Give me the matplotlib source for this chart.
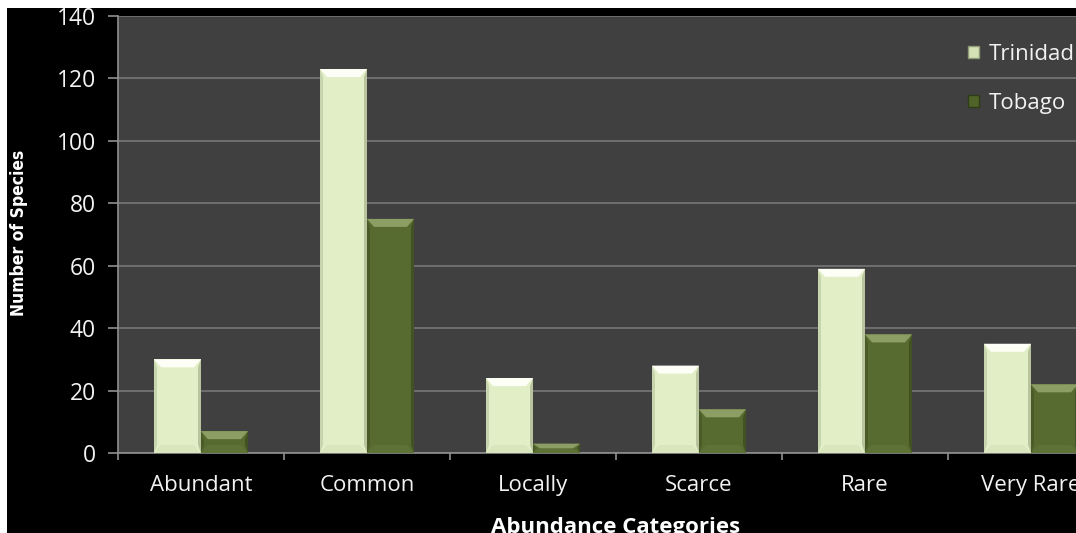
import numpy as np
import matplotlib.pyplot as plt
from matplotlib.patches import Rectangle, Polygon, Patch

categories = ["Abundant", "Common", "Locally", "Scarce", "Rare", "Very Rare"]
trinidad = [30, 123, 24, 28, 59, 35]
tobago = [7, 75, 3, 14, 38, 22]
yticks = [0, 20, 40, 60, 80, 100, 120, 140]

W, H = 1076, 533
fig = plt.figure(figsize=(W / 100, H / 100), dpi=100, facecolor="white")
# black panel behind everything, thin white margin on top and left
fig.patches.append(Rectangle((7 / W, 0), 1, 1 - 8 / H, transform=fig.transFigure,
                             facecolor="black", edgecolor="none", zorder=-10))

left, right, top, bottom = 118, 1114, 16, 453
ax = fig.add_axes([left / W, (H - bottom) / H, (right - left) / W, (bottom - top) / H])
ax.set_facecolor("#404040")

x = np.arange(len(categories))
bw = 0.283

# unit sizes for the bevel (data units per pixel)
px_x = 1 / 166
px_y = 140 / 437


def bevel_bar(xc, h, face, light, dark, bottom_light):
    x0, x1 = xc - bw / 2, xc + bw / 2
    ax.bar(xc, h, width=bw, color=face, edgecolor="none", zorder=3)
    bx = 7 * px_x
    by = min(8 * px_y, h / 2)
    sx = 3 * px_x
    # soft left and right edges
    ax.add_patch(Polygon([(x0, 0), (x0 + sx, by), (x0 + sx, h - by), (x0, h)],
                         closed=True, facecolor=dark, edgecolor="none", alpha=0.3, zorder=4))
    ax.add_patch(Polygon([(x1, 0), (x1 - sx, by), (x1 - sx, h - by), (x1, h)],
                         closed=True, facecolor=dark, edgecolor="none", alpha=0.5, zorder=4))
    # bottom bevel
    ax.add_patch(Polygon([(x0, 0), (x1, 0), (x1 - bx, by), (x0 + bx, by)],
                         closed=True, facecolor=bottom_light, edgecolor="none", alpha=0.35, zorder=4))
    # top highlight
    ax.add_patch(Polygon([(x0, h), (x1, h), (x1 - bx, h - by), (x0 + bx, h - by)],
                         closed=True, facecolor=light, edgecolor="none", zorder=5))


for i in range(len(categories)):
    bevel_bar(x[i] - bw / 2, trinidad[i], "#E1EEC6", "#FDFFF6", "#8E9B76", "#C9D6AE")
    bevel_bar(x[i] + bw / 2, tobago[i], "#576A2F", "#8C9E64", "#2E3B16", "#6E8144")

ax.set_xlim(-0.5, len(categories) - 0.5)
ax.set_ylim(0, 140)
ax.set_yticks(yticks)
ax.yaxis.grid(True, color="#7C7C7C", linewidth=1.1, zorder=1)
ax.set_axisbelow(True)

ax.set_xticks(x)
ax.set_xticklabels(categories)
ax.set_xticks(np.arange(-0.5, len(categories)), minor=True)
ax.tick_params(axis="x", which="major", length=0, pad=16, labelsize=16, labelcolor="#F2F2F2")
ax.tick_params(axis="x", which="minor", length=5, color="#909090", width=1.2)
ax.tick_params(axis="y", length=7, color="#909090", width=1.2, pad=9,
               labelsize=16.5, labelcolor="#F2F2F2")
for lab in ax.get_xticklabels() + ax.get_yticklabels():
    lab.set_family("Open Sans")

for s in ["top", "right"]:
    ax.spines[s].set_visible(False)
for s in ["left", "bottom"]:
    ax.spines[s].set_color("#909090")
    ax.spines[s].set_linewidth(1.2)

fig.text(616 / W, (H - 527) / H, "Abundance Categories", ha="center", va="center",
         color="white", fontsize=16, fontweight="bold", family="Open Sans")
fig.text(19 / W, (H - 233) / H, "Number of Species", ha="center", va="center",
         rotation=90, color="white", fontsize=12.5, fontweight="bold",
         family="DejaVu Sans", fontstretch="condensed")

handles = [Patch(facecolor="#D4E2B6", edgecolor="#8E9A78", label="Trinidad"),
           Patch(facecolor="#4F6428", edgecolor="#2F3D16", label="Tobago")]
leg = fig.legend(handles=handles, loc="upper left", bbox_to_anchor=(948 / W, (H - 24) / H),
                 frameon=False, labelcolor="#F2F2F2", handlelength=0.5,
                 handleheight=0.5, handletextpad=0.45, labelspacing=1.25,
                 prop={"family": "Open Sans", "size": 16})

fig.savefig("out.png", dpi=100, facecolor=fig.get_facecolor())
